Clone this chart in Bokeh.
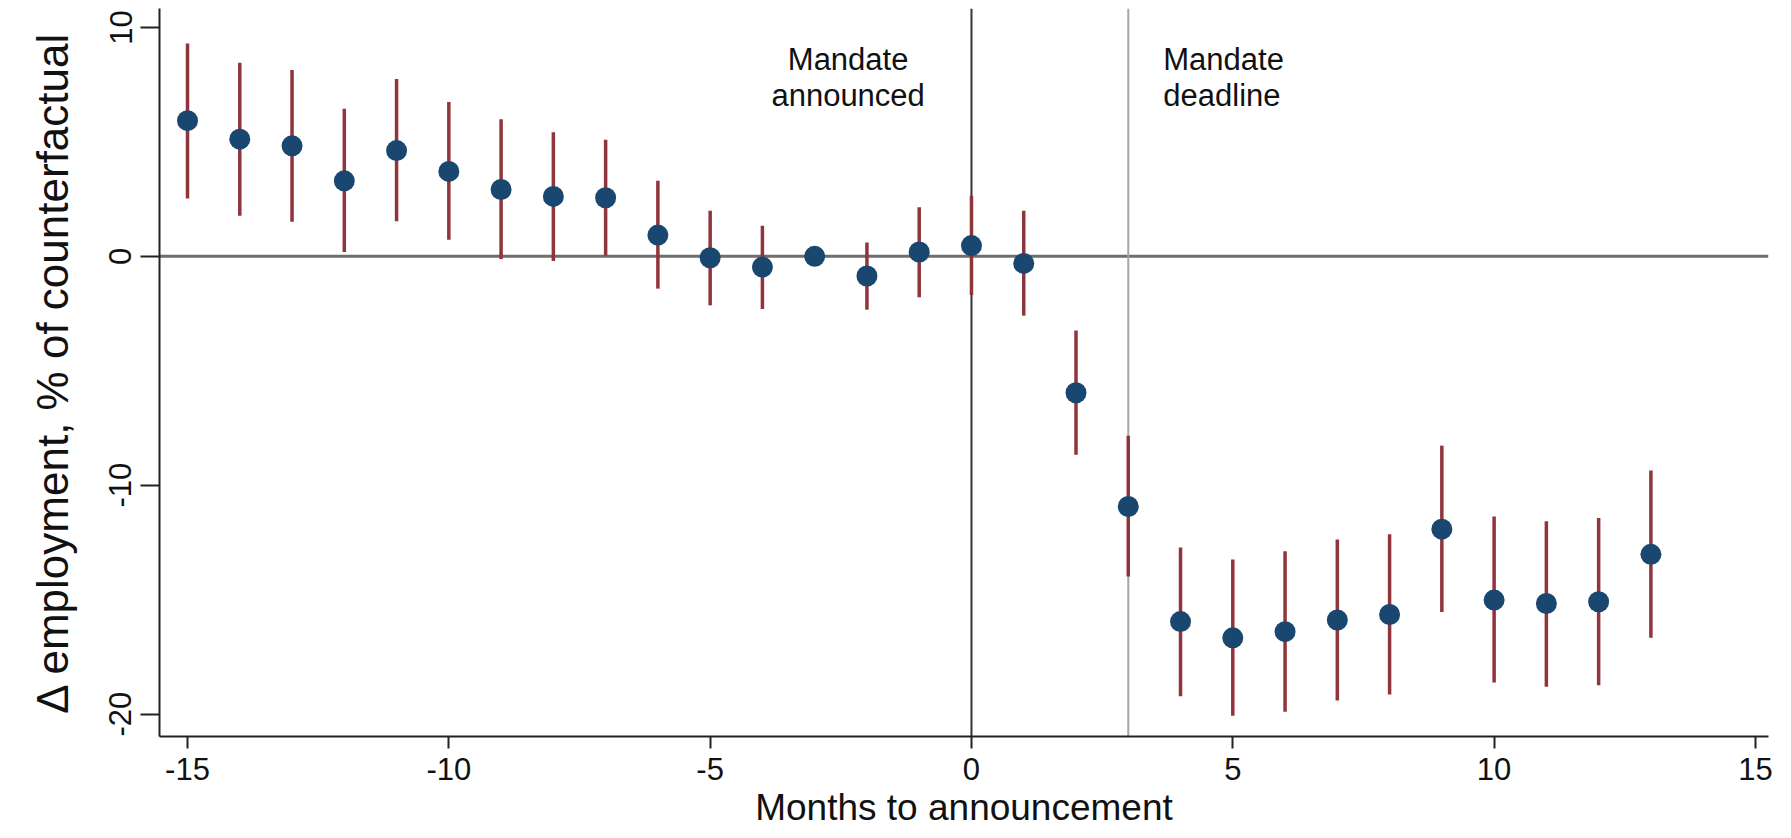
from bokeh.plotting import figure
from bokeh.models import Range1d, Span, Label, FixedTicker
from bokeh.embed import file_html
from bokeh.resources import INLINE

# ---- data ----
months = list(range(-15, 14))
coef = [5.93, 5.12, 4.83, 3.30, 4.62, 3.71, 2.92, 2.62, 2.56, 0.93, -0.06, -0.47, 0.0,
        -0.86, 0.19, 0.47, -0.31, -5.96, -10.93, -15.96, -16.67, -16.40, -15.89, -15.65,
        -11.92, -15.02, -15.17, -15.09, -13.02]
ci_hi = [9.30, 8.46, 8.14, 6.45, 7.75, 6.74, 5.99, 5.42, 5.09, 3.30, 1.99, 1.34, None,
         0.60, 2.15, 2.65, 1.99, -3.24, -7.84, -12.72, -13.25, -12.89, -12.37, -12.14,
         -8.27, -11.37, -11.57, -11.43, -9.36]
ci_lo = [2.53, 1.77, 1.51, 0.19, 1.53, 0.73, -0.12, -0.20, 0.03, -1.41, -2.14, -2.30, None,
         -2.33, -1.79, -1.69, -2.59, -8.67, -13.99, -19.22, -20.07, -19.90, -19.41, -19.14,
         -15.54, -18.62, -18.81, -18.74, -16.67]
x_ticks = [-15, -10, -5, 0, 5, 10, 15]
y_ticks = [-20, -10, 0, 10]
announce_month = 0
deadline_month = 3

FONT = "Liberation Sans"

ci_x = [m for m, h in zip(months, ci_hi) if h is not None]
ci_h = [h for h in ci_hi if h is not None]
ci_l = [l for l in ci_lo if l is not None]

p = figure(width=1791, height=838, output_backend="svg", toolbar_location=None,
           x_range=Range1d(-15.536, 15.25), y_range=Range1d(-20.98, 10.83),
           min_border_left=159, min_border_right=23, min_border_top=8, min_border_bottom=102)
p.outline_line_color = None
p.xgrid.visible = False
p.ygrid.visible = False
p.background_fill_color = "white"
p.border_fill_color = "white"

# reference lines
p.add_layout(Span(location=0, dimension="width", line_color="#6e6e6e", line_width=3, level="underlay"))
p.add_layout(Span(location=announce_month, dimension="height", line_color="#333333", line_width=2, level="underlay"))
p.add_layout(Span(location=deadline_month, dimension="height", line_color="#a6a6a6", line_width=2, level="underlay"))

p.segment(x0=ci_x, y0=ci_l, x1=ci_x, y1=ci_h, line_color="#90353b", line_width=3.5)
p.scatter(x=months, y=coef, size=21, fill_color="#1a476f", line_color=None)

# annotations
p.add_layout(Label(x=-2.36, y=9.35, text="Mandate\nannounced", text_align="center",
                   text_baseline="top", text_font=FONT, text_font_size="31px",
                   text_color="#111111", text_line_height=1.03))
p.add_layout(Label(x=3.67, y=9.35, text="Mandate\ndeadline", text_align="left",
                   text_baseline="top", text_font=FONT, text_font_size="31px",
                   text_color="#111111", text_line_height=1.03))

# axes
for ax in (p.xaxis[0], p.yaxis[0]):
    ax.axis_line_color = "#222222"
    ax.axis_line_width = 2
    ax.major_tick_line_color = "#222222"
    ax.major_tick_line_width = 2
    ax.minor_tick_line_color = None
    ax.major_tick_in = 0
    ax.major_label_text_font = FONT
    ax.major_label_text_font_size = "31px"
    ax.major_label_text_color = "#111111"
    ax.axis_label_text_font = FONT
    ax.axis_label_text_font_style = "normal"
    ax.axis_label_text_color = "#111111"

p.xaxis.ticker = FixedTicker(ticks=x_ticks)
p.yaxis.ticker = FixedTicker(ticks=y_ticks)
p.xaxis.major_label_overrides = {t: str(t) for t in x_ticks}
p.yaxis.major_label_overrides = {t: str(t) for t in y_ticks}
p.xaxis.major_tick_out = 12
p.yaxis.major_tick_out = 19
p.xaxis.major_label_standoff = 9
p.yaxis.major_label_standoff = 9
p.yaxis.major_label_orientation = "vertical"
p.xaxis.axis_label = "Months to announcement"
p.yaxis.axis_label = "\u0394 employment, % of counterfactual"
p.xaxis.axis_label_text_font_size = "37px"
p.yaxis.axis_label_text_font_size = "44px"
p.xaxis.axis_label_standoff = 4
p.yaxis.axis_label_standoff = 30

open("out.html", "w").write(file_html(p, INLINE))
